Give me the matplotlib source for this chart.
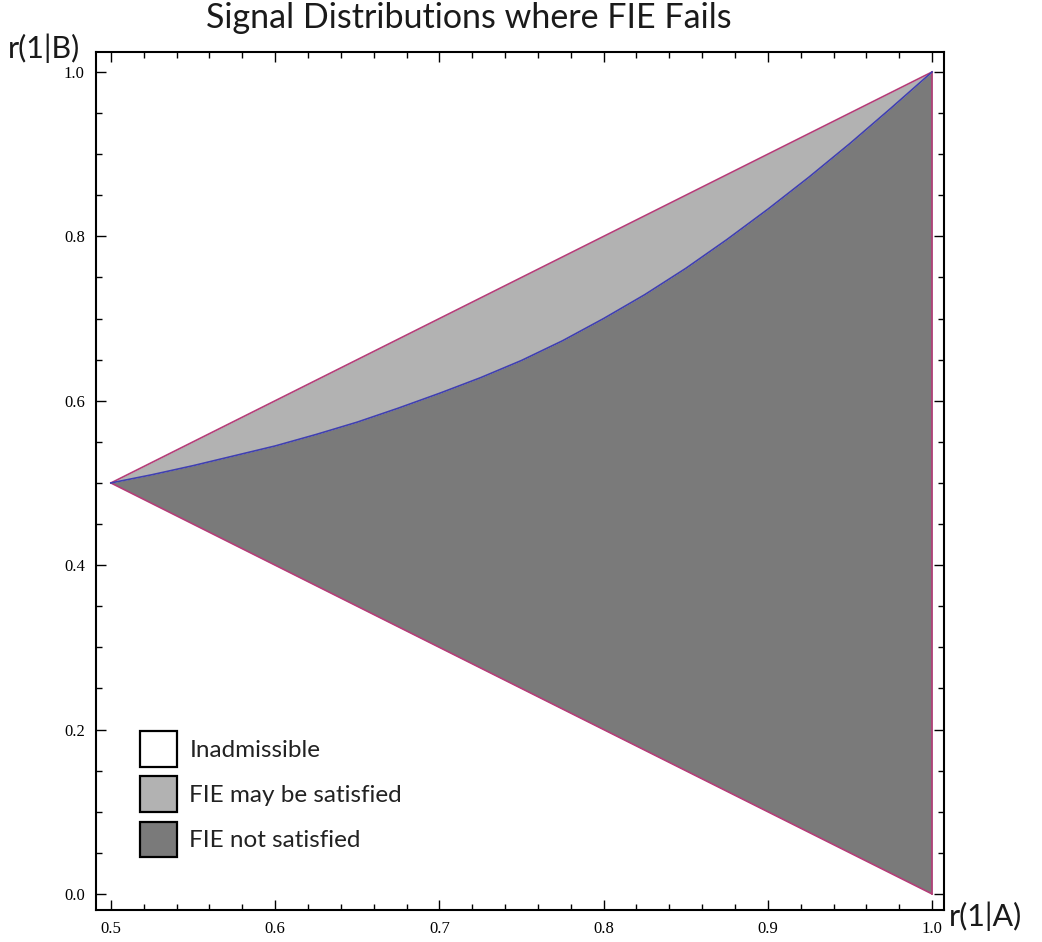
import matplotlib
matplotlib.use("Agg")
import matplotlib.pyplot as plt
from matplotlib.patches import Patch
from matplotlib.ticker import MultipleLocator

# boundary of the admissible region
x_edge = [0.5, 1.0]
upper_edge = [0.5, 1.0]
lower_edge = [0.5, 0.0]

# curve separating "may be satisfied" from "not satisfied"
curve_x = [0.5, 0.525, 0.55, 0.575, 0.6, 0.625, 0.65, 0.675, 0.7, 0.725, 0.75,
           0.775, 0.8, 0.825, 0.85, 0.875, 0.9, 0.925, 0.95, 0.975, 1.0]
curve_y = [0.5, 0.510, 0.521, 0.533, 0.545, 0.559, 0.574, 0.591, 0.609, 0.628, 0.649,
           0.673, 0.700, 0.729, 0.761, 0.796, 0.833, 0.872, 0.913, 0.956, 1.0]

legend_labels = ["Inadmissible", "FIE may be satisfied", "FIE not satisfied"]
legend_colors = ["white", "#b2b2b2", "#7a7a7a"]

x_ticks = [0.5, 0.6, 0.7, 0.8, 0.9, 1.0]
y_ticks = [0.0, 0.2, 0.4, 0.6, 0.8, 1.0]

sans = ["Lato", "DejaVu Sans"]

fig = plt.figure(figsize=(10.42, 9.42), dpi=100)
ax = fig.add_axes([0.0921, 0.034, 0.8139, 0.9108])

def upper_at(x):
    return upper_edge[0] + (upper_edge[1] - upper_edge[0]) * (x - x_edge[0]) / (x_edge[1] - x_edge[0])

def lower_at(x):
    return lower_edge[0] + (lower_edge[1] - lower_edge[0]) * (x - x_edge[0]) / (x_edge[1] - x_edge[0])

ups = [upper_at(x) for x in curve_x]
lows = [lower_at(x) for x in curve_x]

ax.fill_between(curve_x, curve_y, ups, color=legend_colors[1], lw=0)
ax.fill_between(curve_x, lows, curve_y, color=legend_colors[2], lw=0)

pink = "#b53d78"
ax.plot(x_edge, upper_edge, color=pink, lw=1.2)
ax.plot(x_edge, lower_edge, color=pink, lw=1.2)
ax.plot([1.0, 1.0], [0.0, 1.0], color=pink, lw=1.2)
ax.plot(curve_x, curve_y, color="#4040b0", lw=1.2)

ax.set_xlim(0.4909, 1.0073)
ax.set_ylim(-0.0195, 1.0243)

ax.xaxis.set_minor_locator(MultipleLocator(0.02))
ax.yaxis.set_minor_locator(MultipleLocator(0.05))
ax.set_xticks(x_ticks)
ax.set_yticks(y_ticks)
ax.set_xticklabels([f"{t:.1f}" for t in x_ticks])
ax.set_yticklabels([f"{t:.1f}" for t in y_ticks])
ax.tick_params(which="both", direction="in", top=True, right=True, width=1.0, color="black")
ax.tick_params(which="major", length=7, labelsize=12, pad=8)
ax.tick_params(which="minor", length=4)
for lab in ax.get_xticklabels() + ax.get_yticklabels():
    lab.set_family("Liberation Serif")

for sp in ax.spines.values():
    sp.set_linewidth(1.5)

fig.text(0.450, 0.981, "Signal Distributions where FIE Fails", family=sans, fontsize=24.5,
         ha="center", va="center", color="#1a1a1a")
fig.text(0.008, 0.949, "r(1|B)", family=sans, fontsize=22, ha="left", va="center", color="#1a1a1a")
fig.text(0.911, 0.027, "r(1|A)", family=sans, fontsize=22, ha="left", va="center", color="#1a1a1a")

handles = [Patch(facecolor=c, edgecolor="black", linewidth=1.6) for c in legend_colors]
leg = ax.legend(handles, legend_labels, loc="lower left", bbox_to_anchor=(0.0378, 0.0478),
                frameon=False, prop={"family": sans, "size": 17.5}, borderpad=0,
                handlelength=1.5, handleheight=1.85, labelspacing=0.41, handletextpad=0.52)
for t in leg.get_texts():
    t.set_color("#222222")

fig.savefig("out.png", dpi=100)
